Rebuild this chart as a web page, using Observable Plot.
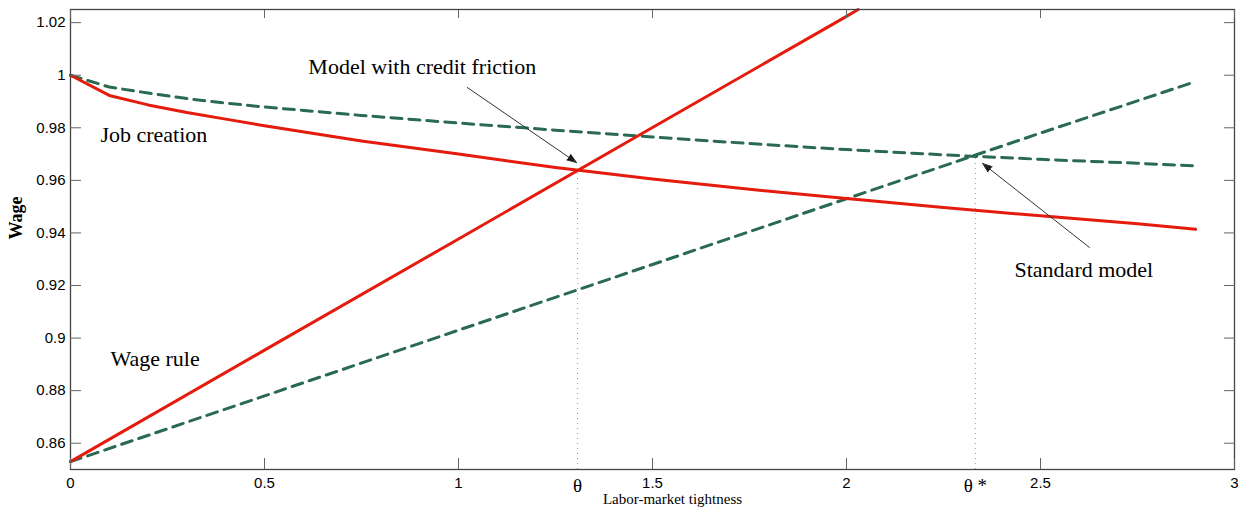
<!DOCTYPE html>
<html>
<head>
<meta charset="utf-8">
<script src="https://cdn.jsdelivr.net/npm/d3@7"></script>
<script src="https://cdn.jsdelivr.net/npm/@observablehq/plot@0.6"></script>
<style>
  html, body { margin: 0; padding: 0; background: #fff; }
  #chart svg { display: block; }
</style>
</head>
<body>
<div id="chart"></div>
<script>
// ---- Data ----
// Job creation curves (downward sloping)
const jcX = [0, 0.1, 0.2, 0.3, 0.4, 0.5, 0.75, 1, 1.25, 1.5, 1.75, 2, 2.25, 2.5, 2.75, 2.9];
const jcCredit   = [1.0, 0.9923, 0.9887, 0.9858, 0.9833, 0.9808, 0.9750, 0.9700, 0.9649, 0.9605, 0.9566, 0.9531, 0.9497, 0.9465, 0.9435, 0.9414];
const jcStandard = [1.0, 0.9955, 0.9932, 0.9911, 0.9894, 0.9879, 0.9847, 0.9818, 0.9791, 0.9765, 0.9740, 0.9717, 0.9697, 0.9680, 0.9665, 0.9655];
// Wage rule curves (upward sloping)
const wrCreditX   = [0, 0.5, 1, 1.5, 2, 2.03];
const wrCredit    = [0.853, 0.8954, 0.9377, 0.9801, 1.0224, 1.025];
const wrStandardX = [0, 0.5, 1, 1.5, 2, 2.5, 2.9];
const wrStandard  = [0.853, 0.878, 0.903, 0.928, 0.953, 0.978, 0.9976];
// Equilibria
const equilibria = [
  {x: 1.307, y: 0.9637, label: "θ"},
  {x: 2.332, y: 0.9695, label: "θ *"}
];
// Axis ticks
const xTicks = [0, 0.5, 1, 1.5, 2, 2.5, 3];
const xTickLabels = ["0", "0.5", "1", "1.5", "2", "2.5", "3"];
const yTicks = [0.86, 0.88, 0.9, 0.92, 0.94, 0.96, 0.98, 1, 1.02];
const yTickLabels = ["0.86", "0.88", "0.9", "0.92", "0.94", "0.96", "0.98", "1", "1.02"];
// Annotations
const labels = [
  {x: 0.613, y: 1.0033, text: "Model with credit friction"},
  {x: 0.077, y: 0.9771, text: "Job creation"},
  {x: 0.103, y: 0.8919, text: "Wage rule"},
  {x: 2.433, y: 0.9261, text: "Standard model"}
];
const arrows = [
  {x1: 1.023, y1: 0.9953, x2: 1.304, y2: 0.9668},
  {x1: 2.626, y1: 0.9345, x2: 2.351, y2: 0.9664}
];

const toPts = (xs, ys) => xs.map((x, i) => ({x, y: ys[i]}));

const RED = "#e41b0d";
const GREEN = "#2b6a52";
const SANS = "Liberation Sans, Arial, Helvetica, sans-serif";
const SERIF = "Liberation Serif, Times New Roman, Times, serif";
const TICK = 11;

const chart = Plot.plot({
  width: 1245,
  height: 512,
  marginLeft: 70,
  marginRight: 11,
  marginTop: 9,
  marginBottom: 43,
  x: {domain: [0, 3], axis: null},
  y: {domain: [0.85, 1.025], axis: null},
  style: {background: "#fff", color: "#000", overflow: "visible", fontFamily: SANS, fontSize: "15px"},
  marks: [
    // dotted verticals at equilibria
    Plot.ruleX(equilibria, {x: "x", y1: 0.85, y2: "y", stroke: "#999", strokeWidth: 1, strokeDasharray: "1,4"}),
    // curves
    Plot.line(toPts(jcX, jcStandard), {x: "x", y: "y", stroke: GREEN, strokeWidth: 3, strokeDasharray: "11,7"}),
    Plot.line(toPts(wrStandardX, wrStandard), {x: "x", y: "y", stroke: GREEN, strokeWidth: 3, strokeDasharray: "11,7"}),
    Plot.line(toPts(jcX, jcCredit), {x: "x", y: "y", stroke: RED, strokeWidth: 3}),
    Plot.line(toPts(wrCreditX, wrCredit), {x: "x", y: "y", stroke: RED, strokeWidth: 3}),
    // arrows
    Plot.arrow(arrows, {x1: "x1", y1: "y1", x2: "x2", y2: "y2", stroke: "#333", fill: "#111", strokeWidth: 1, headLength: 15, headAngle: 40}),
    // annotation text
    Plot.text(labels, {x: "x", y: "y", text: "text", textAnchor: "start", fontFamily: SERIF, fontSize: 22, fill: "#000"}),
    // frame
    Plot.frame({stroke: "#444", strokeWidth: 1.3}),
    // inward ticks on all four sides
    Plot.axisX(xTicks, {anchor: "bottom", tickSize: -TICK, text: null, stroke: "#666"}),
    Plot.axisX(xTicks, {anchor: "top", tickSize: -8, text: null, stroke: "#666"}),
    Plot.axisY(yTicks, {anchor: "left", tickSize: -TICK, text: null, stroke: "#666"}),
    Plot.axisY(yTicks, {anchor: "right", tickSize: -TICK, text: null, stroke: "#666"}),
    // tick labels
    Plot.axisX(xTicks, {anchor: "bottom", tickSize: 0, tickPadding: 8, tickFormat: (d, i) => xTickLabels[i], fontFamily: SANS, fontSize: 15, label: null}),
    Plot.axisY(yTicks, {anchor: "left", tickSize: 0, tickPadding: 5, tickFormat: (d, i) => yTickLabels[i], fontFamily: SANS, fontSize: 15, label: null}),
    // theta labels under the axis
    Plot.text(equilibria, {x: "x", frameAnchor: "bottom", dy: 22, text: "label", fontFamily: SERIF, fontSize: 19, fill: "#000"}),
    // axis titles
    Plot.text(["Labor-market tightness"], {frameAnchor: "bottom", dx: 20, dy: 34, text: d => d, fontFamily: SERIF, fontSize: 15, fill: "#000"}),
    Plot.text(["Wage"], {frameAnchor: "left", dx: -54, rotate: -90, text: d => d, fontFamily: SERIF, fontSize: 18, fontWeight: "bold", fill: "#000"})
  ]
});

document.getElementById("chart").appendChild(chart);
</script>
</body>
</html>
